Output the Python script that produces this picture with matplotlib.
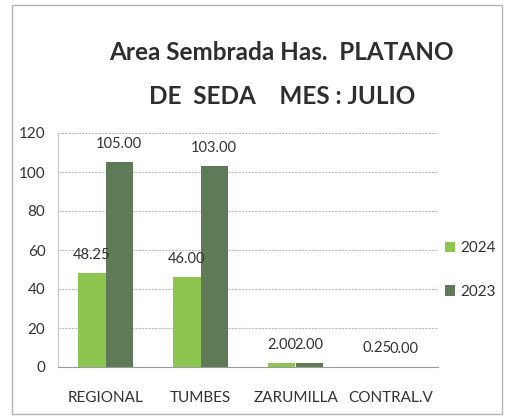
import matplotlib
matplotlib.use('Agg')
import matplotlib.pyplot as plt
import numpy as np
from matplotlib.patches import Rectangle

# data
categorias = ['REGIONAL', 'TUMBES', 'ZARUMILLA', 'CONTRAL.V']
valores_2024 = [48.25, 46.00, 2.00, 0.25]
valores_2023 = [105.00, 103.00, 2.00, 0.00]
series = ['2024', '2023']
yticks = [0, 20, 40, 60, 80, 100, 120]

verde_claro = '#8cc64e'
verde_oscuro = '#5f7a57'
fuente = ['Lato', 'DejaVu Sans']

fig = plt.figure(figsize=(5.05, 4.16), dpi=100)
fig.patch.set_facecolor('white')

# outer chart frame
fig.patches.append(Rectangle((12 / 505, 2 / 416), 490 / 505, 409 / 416,
                             transform=fig.transFigure, fill=False,
                             edgecolor='#b5b5b5', linewidth=1.0))

ax = fig.add_axes([58 / 505, 1 - 367 / 416, 380 / 505, 234 / 416])

x = np.arange(len(categorias))
w = 0.285
b1 = ax.bar(x - w / 2, valores_2024, w, color=verde_claro, label=series[0])
b2 = ax.bar(x + w / 2, valores_2023, w, color=verde_oscuro, label=series[1])

ax.bar_label(b1, labels=['%.2f' % v for v in valores_2024], padding=8,
             fontsize=10.5, color='#333333', family=fuente)
ax.bar_label(b2, labels=['%.2f' % v for v in valores_2023], padding=8,
             fontsize=10.5, color='#333333', family=fuente)

ax.set_xlim(-0.5, len(categorias) - 0.5)
ax.set_ylim(0, 120)
ax.set_yticks(yticks)
ax.set_xticks(x)
ax.set_xticklabels(categorias)
for lab in ax.get_xticklabels() + ax.get_yticklabels():
    lab.set_family(fuente)
    lab.set_fontsize(11)
    lab.set_color('#333333')
ax.tick_params(axis='x', length=0, pad=17)
ax.tick_params(axis='y', length=0, pad=9)

ax.yaxis.grid(True, color='#bcbcbc', linestyle=(0, (2, 1)), linewidth=0.8)
ax.set_axisbelow(True)
for s in ['top', 'right']:
    ax.spines[s].set_visible(False)
ax.spines['left'].set_color('#c8c8c8')
ax.spines['left'].set_linestyle((0, (2, 1)))
ax.spines['bottom'].set_color('#9a9a9a')

fig.text(0.558, 0.873, 'Area Sembrada Has.  PLATANO', ha='center', va='center',
         fontsize=17.5, fontweight='bold', color='#2e2e2e', family=fuente)
fig.text(0.558, 0.767, 'DE  SEDA    MES : JULIO', ha='center', va='center',
         fontsize=17.5, fontweight='bold', color='#2e2e2e', family=fuente)

leg = fig.legend(handles=[b1, b2], labels=series, loc='center left',
                 bbox_to_anchor=(440 / 505, 1 - 270 / 416), frameon=False,
                 handlelength=0.7, handleheight=0.7, handletextpad=0.3,
                 labelspacing=1.9, borderaxespad=0, borderpad=0.3,
                 prop={'family': fuente, 'size': 11})
for t in leg.get_texts():
    t.set_color('#333333')

fig.savefig('out.png', dpi=100, facecolor='white')
